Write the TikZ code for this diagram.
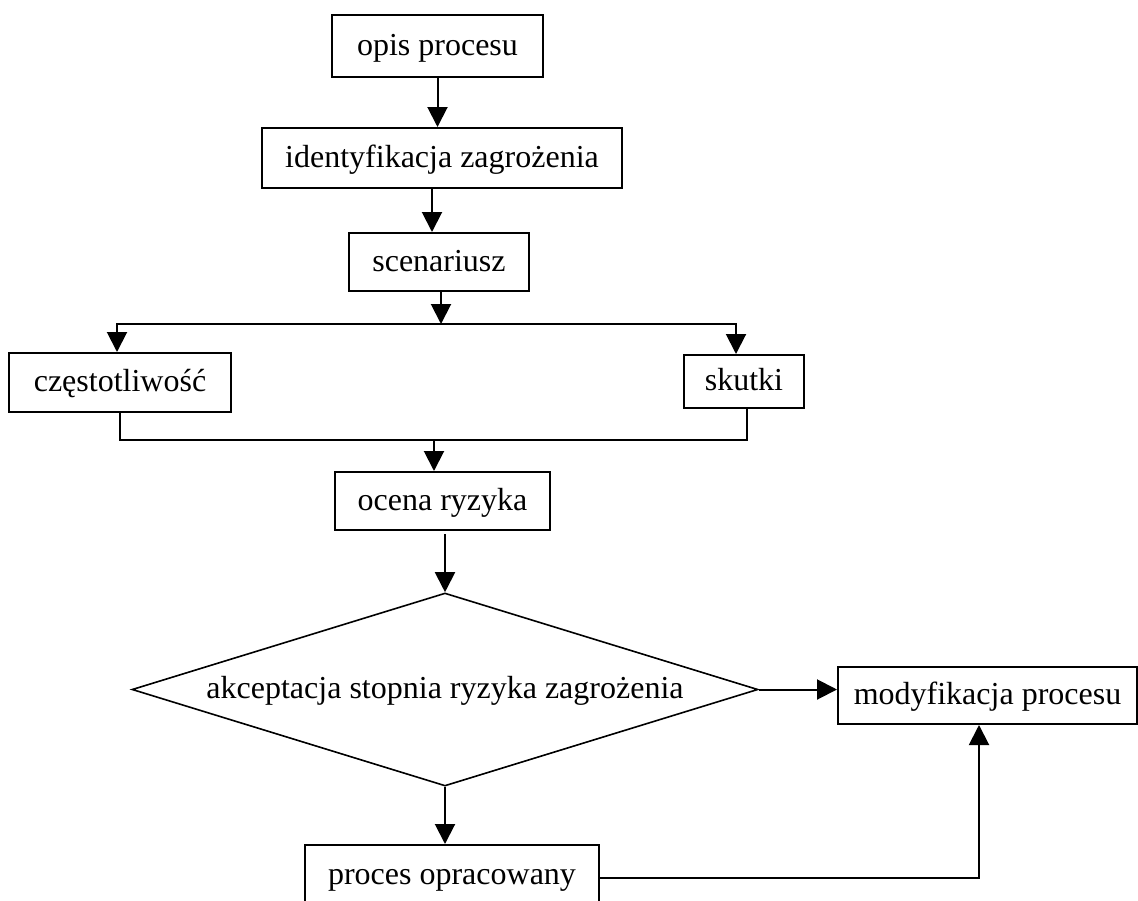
\documentclass[tikz,border=0pt]{standalone}
\usepackage{fontspec}
\setmainfont{Liberation Serif}
\usetikzlibrary{arrows.meta,shapes.geometric}
\begin{document}
\begin{tikzpicture}[x=1pt,y=-1pt,
  txt/.style={inner sep=0pt,font=\fontsize{32}{38}\selectfont,text height=24pt,text depth=6pt},
  box/.style={txt,draw,line width=2pt},
  conn/.style={line width=2pt},
  arr/.style={conn,-{Triangle[length=20pt,width=20pt]}}]
\useasboundingbox (0,0) rectangle (1138,900);

\node[box,minimum width=211pt,minimum height=62pt] (opis) at (437.5,46) {opis procesu};
\node[box,minimum width=360pt,minimum height=60pt] (ident) at (442,158) {identyfikacja zagrożenia};
\node[box,minimum width=180pt,minimum height=58pt] (scen) at (439,262) {scenariusz};
\node[box,minimum width=222pt,minimum height=59pt] (czest) at (120,382.5) {częstotliwość};
\node[box,minimum width=120pt,minimum height=53pt] (skutki) at (744,381.5) {skutki};
\node[box,minimum width=215pt,minimum height=58pt] (ocena) at (442.5,501) {ocena ryzyka};
\node[diamond,draw,line width=1.6pt,inner sep=0pt,minimum width=626pt,minimum height=193pt] (dec) at (445,689.5) {};
\node[txt] (dectxt) at (445,689.5) {akceptacja stopnia ryzyka zagrożenia};
\node[box,minimum width=299pt,minimum height=57pt] (modyf) at (987.5,695.5) {modyfikacja procesu};
\node[box,minimum width=294pt,minimum height=60pt] (proces) at (452,875) {proces opracowany};

\coordinate (j1) at (441,324);
\coordinate (j2) at (434,440);

\draw[arr] (opis.south) -- (opis.south |- ident.north);
\draw[arr] ([xshift=-10pt]ident.south) -- ([xshift=-10pt]ident.south |- scen.north);
\draw[arr] (scen.south -| j1) -- (j1);
\draw[arr] (j1) -| ([xshift=-3pt]czest.north);
\draw[arr] (j1) -| ([xshift=-8pt]skutki.north);
\draw[conn] (czest.south) |- (j2);
\draw[conn] ([xshift=3pt]skutki.south) |- (j2);
\draw[arr] (j2) -- (j2 |- ocena.north);
\draw[arr] ([yshift=-3pt]ocena.south -| dec.north) -- (dec.north);
\draw[arr] (dec.east) -- (dec.east -| modyf.west);
\draw[arr] (dec.south) -- (dec.south |- proces.north);
\draw[arr] ([yshift=-3pt]proces.east) -| ([xshift=-8.5pt]modyf.south);
\end{tikzpicture}
\end{document}
